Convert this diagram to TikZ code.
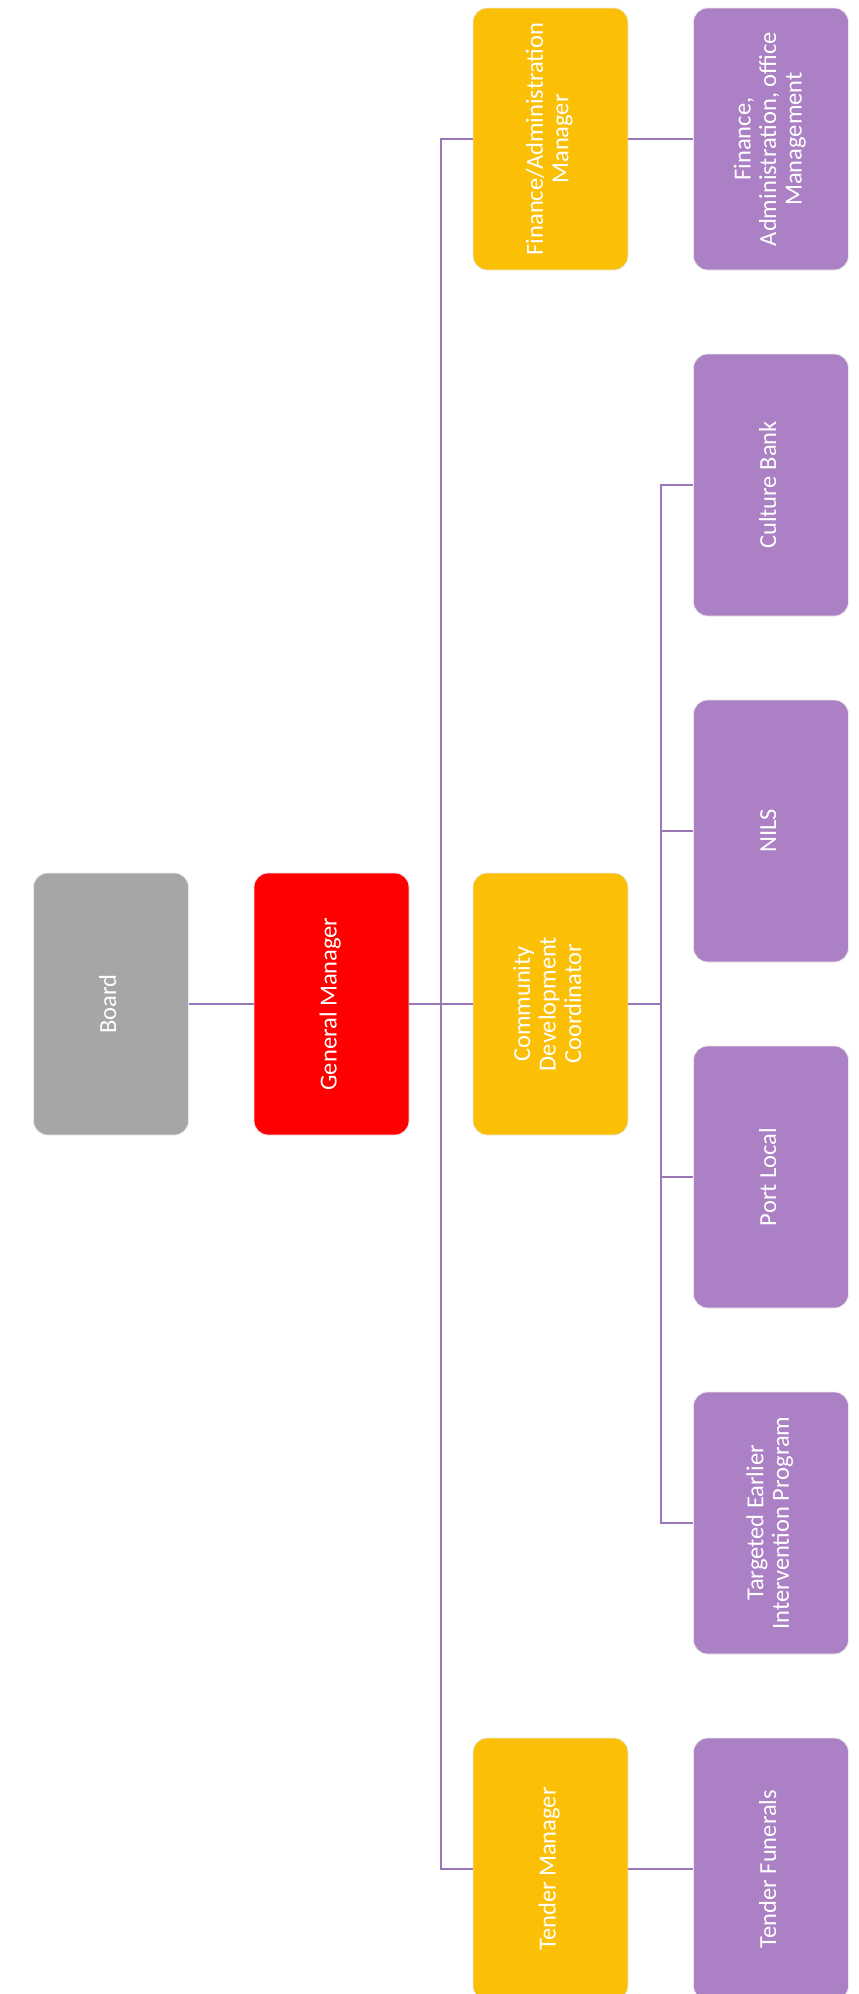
\documentclass[tikz,border=0pt]{standalone}
\usepackage{fontspec}
\setmainfont{Carlito}
\usepackage{graphicx}
\usetikzlibrary{calc}
\definecolor{boardgray}{HTML}{A6A6A6}
\definecolor{gmred}{HTML}{FF0000}
\definecolor{mgryellow}{HTML}{FBBF06}
\definecolor{unitpurple}{HTML}{AC80C4}
\definecolor{linepurple}{HTML}{9A78B8}
\newcommand{\rtext}[1]{\rotatebox[origin=c]{90}{\fontsize{24.5}{25.5}\selectfont\begin{tabular}{@{}c@{}}#1\end{tabular}}}
\begin{document}
\begin{tikzpicture}[x=1pt,y=1pt,
  orgbox/.style={rectangle, rounded corners=14pt, minimum width=155pt, minimum height=262pt,
    inner sep=0pt, text=white, draw=white!92!black, line width=0.8pt},
  boardbox/.style={orgbox, fill=boardgray},
  gmbox/.style={orgbox, fill=gmred},
  mgrbox/.style={orgbox, fill=mgryellow},
  unitbox/.style={orgbox, fill=unitpurple},
  link/.style={draw=linepurple, line width=2pt}]
\useasboundingbox[fill=white] (0,0) rectangle (859,-1994);
% level 1-2
\node[boardbox] (board) at (111,-1004) {\rtext{Board}};
\node[gmbox] (gm) at (331.5,-1004) {\rtext{General Manager}};
% managers
\node[mgrbox] (fin) at (550.5,-139) {\rtext{Finance/Administration\\Manager}};
\node[mgrbox] (cdc) at (550.5,-1004) {\rtext{Community\\Development\\Coordinator}};
\node[mgrbox] (ten) at (550.5,-1869) {\rtext{Tender Manager}};
% units
\node[unitbox] (fao) at (771,-139) {\rtext{Finance,\\Administration, office\\Management}};
\node[unitbox] (cul) at (771,-485) {\rtext{Culture Bank}};
\node[unitbox] (nils) at (771,-831) {\rtext{NILS}};
\node[unitbox] (port) at (771,-1177) {\rtext{Port Local}};
\node[unitbox] (tar) at (771,-1523) {\rtext{Targeted Earlier\\Intervention Program}};
\node[unitbox] (fun) at (771,-1869) {\rtext{Tender Funerals}};
% bus coordinates
\coordinate (bus1) at ($(gm.east)!0.5!(cdc.west)$);
\coordinate (bus2) at ($(cdc.east)!0.5!(nils.west |- cdc.east)$);
% connectors
\draw[link] (board.east) -- (gm.west);
\draw[link] (gm.east) -- (cdc.west);
\draw[link] (fin.west) -| (bus1) |- (ten.west);
\draw[link] (fin.east) -- (fao.west);
\draw[link] (ten.east) -- (fun.west);
\draw[link] (cdc.east) -- (bus2);
\draw[link] (cul.west) -| (bus2) |- (tar.west);
\draw[link] (nils.west) -- (nils.west -| bus2);
\draw[link] (port.west) -- (port.west -| bus2);
\end{tikzpicture}
\end{document}
